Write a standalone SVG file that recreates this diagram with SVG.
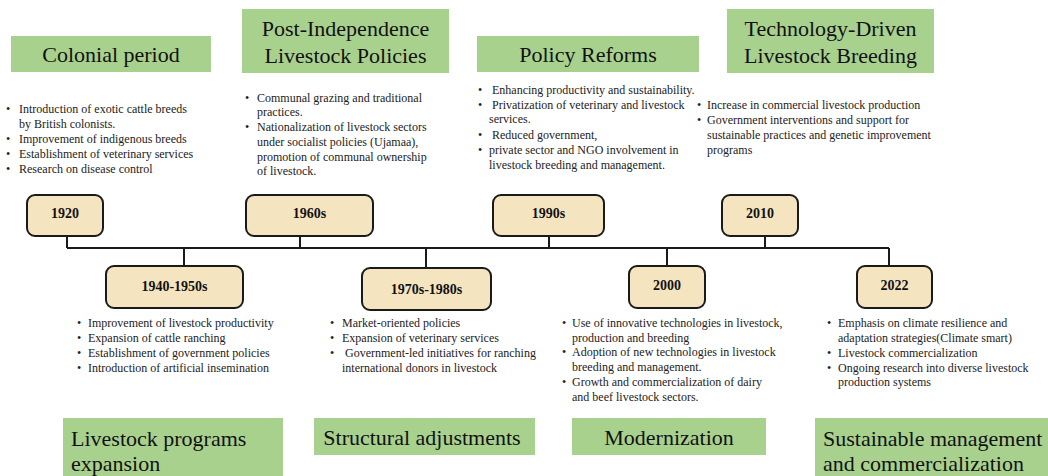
<svg xmlns="http://www.w3.org/2000/svg" width="1048" height="476" viewBox="0 0 1048 476">
<style>
.bg{fill:#ffffff}
.g{fill:#A9D18E}
.h{font-family:"Liberation Serif","Times New Roman",serif;font-size:22px;fill:#111}
.hm{text-anchor:middle}
.s{font-family:"Liberation Serif","Times New Roman",serif;font-size:12px;fill:#222}
.node rect{fill:#F5E4C0;stroke:#1a1a1a;stroke-width:2}
.node text{font-family:"Liberation Serif","Times New Roman",serif;font-size:14px;font-weight:bold;text-anchor:middle;fill:#111}
.conn{stroke:#1a1a1a;stroke-width:2;fill:none}
</style>
<rect class="bg" x="0" y="0" width="1048" height="476"/>

<g id="connectors">
<path class="conn" d="M67 248H889"/>
<path class="conn" d="M67 236V248M300 236V248M549 236V248M765 236V248"/>
<path class="conn" d="M184 248V266M426 248V268M667 248V266M889 248V266"/>
</g>

<g id="node-1920" class="node"><rect x="27" y="195" width="76" height="41" rx="8"/><text x="65" y="218">1920</text></g>
<g id="node-1960s" class="node"><rect x="246" y="195" width="127" height="41" rx="8"/><text x="309.5" y="218">1960s</text></g>
<g id="node-1990s" class="node"><rect x="493" y="195" width="111" height="41" rx="8"/><text x="548.5" y="218">1990s</text></g>
<g id="node-2010" class="node"><rect x="722" y="195" width="76" height="41" rx="8"/><text x="760" y="218">2010</text></g>
<g id="node-1940-1950s" class="node"><rect x="106" y="266" width="137" height="42" rx="8"/><text x="174.5" y="291">1940-1950s</text></g>
<g id="node-1970s-1980s" class="node"><rect x="362" y="268" width="129" height="42" rx="8"/><text x="426.5" y="294">1970s-1980s</text></g>
<g id="node-2000" class="node"><rect x="629" y="266" width="76" height="42" rx="8"/><text x="667" y="290">2000</text></g>
<g id="node-2022" class="node"><rect x="857" y="266" width="75" height="42" rx="8"/><text x="894.5" y="290">2022</text></g>

<g id="title-colonial">
<rect class="g" x="11" y="36" width="200" height="36"/>
<text class="h hm" x="111" y="62">Colonial period</text>
</g>
<g id="notes-colonial" class="s">
<text x="6" y="112.5">•</text><text x="19" y="112.5">Introduction of exotic cattle breeds</text>
<text x="19" y="128">by British colonists.</text>
<text x="6" y="143">•</text><text x="19" y="143">Improvement of indigenous breeds</text>
<text x="6" y="158">•</text><text x="19" y="158">Establishment of veterinary services</text>
<text x="6" y="173">•</text><text x="19" y="173">Research on disease control</text>
</g>

<g id="title-post-independence">
<rect class="g" x="242" y="9" width="207" height="64"/>
<text class="h hm" x="345.5" y="36">Post-Independence</text>
<text class="h hm" x="345.5" y="63">Livestock Policies</text>
</g>
<g id="notes-post-independence" class="s">
<text x="245" y="101.5">•</text><text x="257" y="101.5">Communal grazing and traditional</text>
<text x="257" y="116.3">practices.</text>
<text x="245" y="131">•</text><text x="257" y="131">Nationalization of livestock sectors</text>
<text x="257" y="145.8">under socialist policies (Ujamaa),</text>
<text x="257" y="160.5">promotion of communal ownership</text>
<text x="257" y="175.3">of livestock.</text>
</g>

<g id="title-policy-reforms">
<rect class="g" x="477" y="36" width="222" height="36"/>
<text class="h hm" x="588" y="62">Policy Reforms</text>
</g>
<g id="notes-policy-reforms" class="s">
<text x="478" y="93.5">•</text><text x="489" y="93.5" xml:space="preserve"> Enhancing productivity and sustainability.</text>
<text x="478" y="109">•</text><text x="489" y="109" xml:space="preserve"> Privatization of veterinary and livestock</text>
<text x="489" y="123">services.</text>
<text x="478" y="139">•</text><text x="489" y="139" xml:space="preserve"> Reduced government,</text>
<text x="478" y="154">•</text><text x="489" y="154">private sector and NGO involvement in</text>
<text x="489" y="169">livestock breeding and management.</text>
</g>

<g id="title-technology">
<rect class="g" x="727" y="9" width="207" height="64"/>
<text class="h hm" x="830.5" y="36">Technology-Driven</text>
<text class="h hm" x="830.5" y="63">Livestock Breeding</text>
</g>
<g id="notes-technology" class="s">
<text x="697" y="109">•</text><text x="707" y="109">Increase in commercial livestock production</text>
<text x="697" y="124">•</text><text x="707" y="124">Government interventions and support for</text>
<text x="707" y="139">sustainable practices and genetic improvement</text>
<text x="707" y="153.5">programs</text>
</g>

<g id="notes-1940" class="s">
<text x="77" y="327">•</text><text x="88" y="327">Improvement of livestock productivity</text>
<text x="77" y="341.5">•</text><text x="88" y="341.5">Expansion of cattle ranching</text>
<text x="77" y="356.5">•</text><text x="88" y="356.5">Establishment of government policies</text>
<text x="77" y="371.5">•</text><text x="88" y="371.5">Introduction of artificial insemination</text>
</g>
<g id="title-programs">
<rect class="g" x="63" y="418" width="220" height="58"/>
<text class="h" x="71" y="446">Livestock programs</text>
<text class="h" x="71" y="471">expansion</text>
</g>

<g id="notes-1970" class="s">
<text x="330" y="327">•</text><text x="342" y="327">Market-oriented policies</text>
<text x="330" y="341.5">•</text><text x="342" y="341.5">Expansion of veterinary services</text>
<text x="330" y="356.5">•</text><text x="342" y="356.5" xml:space="preserve"> Government-led initiatives for ranching</text>
<text x="342" y="371.5">international donors in livestock</text>
</g>
<g id="title-structural">
<rect class="g" x="314" y="418" width="221" height="37"/>
<text class="h hm" x="422" y="445">Structural adjustments</text>
</g>

<g id="notes-2000" class="s">
<text x="562" y="327">•</text><text x="572" y="327">Use of innovative technologies in livestock,</text>
<text x="572" y="341.7">production and breeding</text>
<text x="562" y="356.4">•</text><text x="572" y="356.4">Adoption of new technologies in livestock</text>
<text x="572" y="371">breeding and management.</text>
<text x="562" y="385.8">•</text><text x="572" y="385.8">Growth and commercialization of dairy</text>
<text x="572" y="400.5">and beef livestock sectors.</text>
</g>
<g id="title-modernization">
<rect class="g" x="572" y="418" width="194" height="37"/>
<text class="h hm" x="669" y="445">Modernization</text>
</g>

<g id="notes-2022" class="s">
<text x="827" y="327">•</text><text x="838" y="327">Emphasis on climate resilience and</text>
<text x="838" y="341.5">adaptation strategies(Climate smart)</text>
<text x="827" y="356.5">•</text><text x="838" y="356.5">Livestock commercialization</text>
<text x="827" y="371.5">•</text><text x="838" y="371.5">Ongoing research into diverse livestock</text>
<text x="838" y="386">production systems</text>
</g>
<g id="title-sustainable">
<rect class="g" x="815" y="418" width="233" height="58"/>
<text class="h" x="823" y="446">Sustainable management</text>
<text class="h" x="823" y="471">and commercialization</text>
</g>
</svg>
